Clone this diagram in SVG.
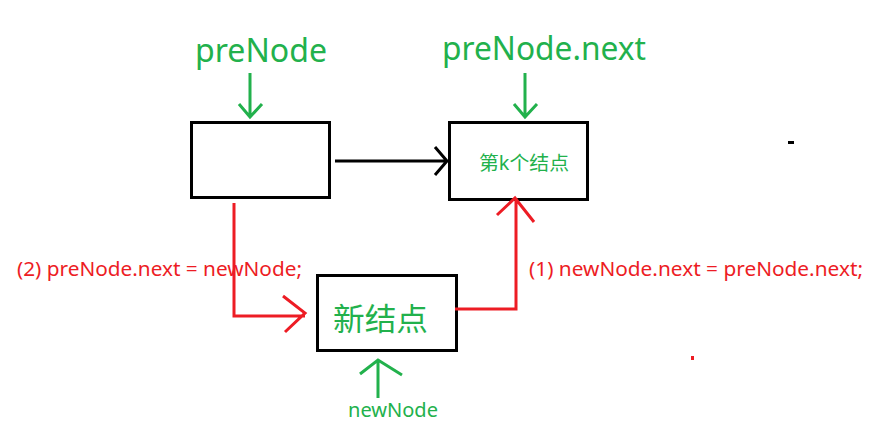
<svg xmlns="http://www.w3.org/2000/svg" width="869" height="426" viewBox="0 0 869 426">
<style>
.box{fill:#fff;stroke:#000;stroke-width:3}
.g{fill:#22B14C;font-family:"Noto Sans","Noto Sans CJK SC",sans-serif}
.r{fill:#ED1C24;font-family:"Noto Sans","Noto Sans CJK SC",sans-serif;font-size:19px}
.ga{fill:none;stroke:#22B14C;stroke-width:3}
.ra{fill:none;stroke:#ED1C24;stroke-width:3}
.ka{fill:none;stroke:#000;stroke-width:3}
</style>
<rect width="869" height="426" fill="#fff"/>
<g id="preNode">
<rect class="box" x="191.5" y="122.5" width="138" height="75"/>
</g>
<g id="kNode">
<rect class="box" x="449.5" y="122.5" width="138" height="77"/>
<text class="g" x="479" y="170" font-size="19" textLength="90" lengthAdjust="spacingAndGlyphs">第k个结点</text>
</g>
<g id="newNode">
<rect class="box" x="317.5" y="275.5" width="139" height="75"/>
<text class="g" x="333" y="330" font-size="31" textLength="95" lengthAdjust="spacingAndGlyphs">新结点</text>
</g>
<g id="labels">
<text class="g" x="195" y="62" font-size="32" textLength="132" lengthAdjust="spacingAndGlyphs">preNode</text>
<text class="g" x="442" y="60" font-size="32" textLength="204" lengthAdjust="spacingAndGlyphs">preNode.next</text>
<text class="g" x="348" y="417" font-size="19" textLength="90" lengthAdjust="spacingAndGlyphs">newNode</text>
<text class="r" x="17" y="276" textLength="285" lengthAdjust="spacingAndGlyphs">(2) preNode.next = newNode;</text>
<text class="r" x="529" y="276" textLength="334" lengthAdjust="spacingAndGlyphs">(1) newNode.next = preNode.next;</text>
</g>
<g id="connectors">
<path class="ga" d="M250 73V117M239 104L250 117L262 104"/>
<path class="ga" d="M525 73V117M514 104L525 117L537 104"/>
<path class="ga" d="M378 398V360M360 374L378 360L402 375"/>
<path class="ka" d="M335 161H447M435 147L447 161L435 175"/>
<path class="ra" d="M234 203V316H305M283 296L305 313L285 332"/>
<path class="ra" d="M455 309H516V198M497 215L515 198L534 222"/>
</g>
<rect x="788" y="141" width="6" height="3" fill="#000"/>
<rect x="691" y="356" width="3" height="4" fill="#ED1C24"/>
</svg>
